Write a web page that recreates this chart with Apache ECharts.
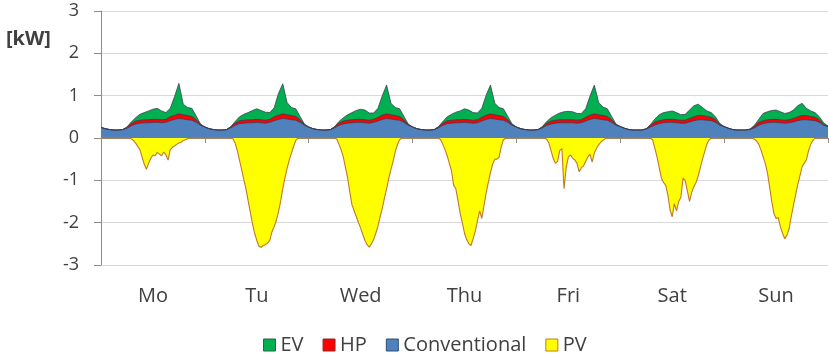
<!DOCTYPE html>
<html>
<head>
<meta charset="utf-8">
<script src="https://cdn.jsdelivr.net/npm/echarts@6/dist/echarts.min.js"></script>
<style>
  html, body { margin: 0; padding: 0; background: #ffffff; }
  #chart { width: 829px; height: 357px; }
</style>
</head>
<body>
<div id="chart"></div>
<script>
// Weekly household power profile [kW]
const days = ['Mo', 'Tu', 'Wed', 'Thu', 'Fri', 'Sat', 'Sun'];
const yTicks = [-3, -2, -1, 0, 1, 2, 3];

// Hourly load components (24 values per day, plus the closing value at hour 168)
const conventional = [
  /* Mo  */ 0.25,0.22,0.20,0.19,0.19,0.20,0.23,0.29,0.33,0.35,0.36,0.36,0.37,0.37,0.36,0.37,0.41,0.44,0.46,0.45,0.43,0.42,0.37,0.30,
  /* Tu  */ 0.26,0.22,0.20,0.19,0.19,0.20,0.24,0.30,0.34,0.35,0.36,0.36,0.37,0.36,0.35,0.37,0.41,0.44,0.46,0.45,0.43,0.42,0.37,0.30,
  /* Wed */ 0.26,0.22,0.20,0.19,0.19,0.20,0.24,0.30,0.33,0.35,0.36,0.37,0.37,0.36,0.35,0.37,0.40,0.44,0.46,0.45,0.43,0.42,0.37,0.30,
  /* Thu */ 0.26,0.22,0.20,0.19,0.19,0.20,0.24,0.30,0.34,0.35,0.36,0.36,0.37,0.36,0.35,0.36,0.40,0.44,0.46,0.45,0.43,0.42,0.37,0.30,
  /* Fri */ 0.26,0.22,0.20,0.19,0.19,0.20,0.24,0.30,0.33,0.35,0.36,0.36,0.36,0.36,0.35,0.36,0.40,0.44,0.46,0.45,0.43,0.42,0.37,0.30,
  /* Sat */ 0.27,0.23,0.20,0.19,0.19,0.19,0.21,0.26,0.31,0.34,0.36,0.37,0.37,0.36,0.35,0.35,0.38,0.41,0.43,0.43,0.42,0.41,0.37,0.30,
  /* Sun */ 0.27,0.23,0.20,0.19,0.19,0.19,0.20,0.24,0.30,0.34,0.36,0.37,0.37,0.36,0.35,0.36,0.38,0.41,0.43,0.43,0.42,0.41,0.37,0.30,
  0.27
];
const heatPump = [
  /* Mo  */ 0,0,0,0,0,0,0.02,0.05,0.07,0.07,0.07,0.07,0.07,0.07,0.07,0.07,0.09,0.10,0.11,0.10,0.10,0.09,0.06,0.02,
  /* Tu  */ 0,0,0,0,0,0,0.02,0.05,0.07,0.07,0.07,0.07,0.07,0.07,0.07,0.07,0.09,0.10,0.11,0.10,0.10,0.09,0.06,0.02,
  /* Wed */ 0,0,0,0,0,0,0.02,0.05,0.07,0.07,0.07,0.07,0.07,0.07,0.07,0.07,0.09,0.10,0.11,0.10,0.10,0.09,0.06,0.02,
  /* Thu */ 0,0,0,0,0,0,0.02,0.05,0.07,0.07,0.07,0.07,0.07,0.07,0.07,0.07,0.09,0.10,0.11,0.10,0.10,0.09,0.06,0.02,
  /* Fri */ 0,0,0,0,0,0,0.02,0.05,0.07,0.07,0.07,0.07,0.07,0.07,0.07,0.07,0.09,0.10,0.11,0.10,0.10,0.09,0.06,0.02,
  /* Sat */ 0,0,0,0,0,0,0.01,0.04,0.07,0.07,0.07,0.07,0.07,0.07,0.07,0.07,0.08,0.09,0.10,0.10,0.09,0.08,0.06,0.02,
  /* Sun */ 0,0,0,0,0,0,0.01,0.04,0.07,0.07,0.07,0.07,0.07,0.07,0.07,0.07,0.08,0.09,0.10,0.10,0.09,0.08,0.06,0.02,
  0.01
];
const electricVehicle = [
  /* Mo  */ 0,0,0,0,0,0,0.01,0.04,0.08,0.14,0.17,0.21,0.24,0.26,0.21,0.16,0.20,0.44,0.72,0.25,0.19,0.19,0.09,0.01,
  /* Tu  */ 0,0,0,0,0,0,0.01,0.04,0.09,0.14,0.17,0.22,0.25,0.22,0.19,0.16,0.21,0.51,0.71,0.29,0.19,0.18,0.08,0.01,
  /* Wed */ 0,0,0,0,0,0,0.01,0.04,0.08,0.13,0.17,0.21,0.24,0.23,0.17,0.15,0.21,0.46,0.68,0.27,0.19,0.18,0.08,0.01,
  /* Thu */ 0,0,0,0,0,0,0.01,0.04,0.09,0.14,0.18,0.21,0.25,0.23,0.18,0.16,0.21,0.47,0.68,0.27,0.19,0.18,0.08,0.01,
  /* Fri */ 0,0,0,0,0,0,0.01,0.04,0.08,0.12,0.16,0.19,0.20,0.19,0.16,0.15,0.20,0.45,0.68,0.29,0.20,0.18,0.08,0.01,
  /* Sat */ 0,0,0,0,0,0,0,0.02,0.07,0.14,0.17,0.18,0.20,0.17,0.13,0.14,0.20,0.26,0.27,0.19,0.13,0.11,0.07,0.02,
  /* Sun */ 0,0,0,0,0,0,0,0.02,0.07,0.17,0.19,0.21,0.22,0.19,0.16,0.17,0.20,0.26,0.29,0.17,0.13,0.11,0.07,0.04,
  0
];

// Half-hourly PV feed-in (48 values per day, plus the closing value), negative = generation
const photovoltaic = [
  /* Mo  */ 0,0,0,0,0,0,0,0,0,0,0,0,0,0,
            -0.02,-0.06,-0.12,-0.20,-0.28,-0.45,-0.62,-0.74,-0.60,-0.48,-0.40,-0.42,-0.34,-0.38,
            -0.42,-0.33,-0.40,-0.52,-0.28,-0.22,-0.19,-0.15,-0.12,-0.10,-0.06,-0.04,-0.02,
            0,0,0,0,0,0,0,
  /* Tu  */ 0,0,0,0,0,0,0,0,0,0,0,0,0,
            -0.02,-0.12,-0.30,-0.52,-0.75,-0.98,-1.20,-1.48,-1.75,-2.02,-2.25,-2.42,-2.56,-2.58,
            -2.54,-2.52,-2.48,-2.42,-2.22,-2.10,-1.95,-1.75,-1.50,-1.20,-0.95,-0.72,-0.52,-0.36,
            -0.20,-0.06,
            0,0,0,0,0,
  /* Wed */ 0,0,0,0,0,0,0,0,0,0,0,0,0,
            -0.03,-0.15,-0.28,-0.45,-0.70,-0.95,-1.28,-1.58,-1.72,-1.86,-2.00,-2.13,-2.28,-2.42,
            -2.52,-2.58,-2.50,-2.40,-2.25,-2.08,-1.86,-1.66,-1.42,-1.20,-0.95,-0.74,-0.55,-0.32,
            -0.16,-0.04,
            0,0,0,0,0,
  /* Thu */ 0,0,0,0,0,0,0,0,0,0,0,0,0,
            -0.04,-0.15,-0.28,-0.42,-0.60,-0.78,-1.12,-1.20,-1.48,-1.78,-2.00,-2.25,-2.40,-2.50,
            -2.54,-2.38,-2.20,-1.95,-1.72,-1.90,-1.60,-1.30,-1.05,-0.82,-0.62,-0.50,-0.50,-0.45,
            -0.20,-0.04,
            0,0,0,0,0,
  /* Fri */ 0,0,0,0,0,0,0,0,0,0,0,0,0,0,
            -0.03,-0.12,-0.30,-0.48,-0.60,-0.55,-0.30,-0.25,-1.20,-0.70,-0.45,-0.40,-0.48,-0.52,
            -0.60,-0.80,-0.70,-0.66,-0.55,-0.45,-0.38,-0.57,-0.35,-0.25,-0.16,-0.10,-0.05,-0.02,
            0,0,0,0,0,0,
  /* Sat */ 0,0,0,0,0,0,0,0,0,0,0,0,0,0,0,
            -0.05,-0.25,-0.45,-0.70,-0.95,-1.05,-1.12,-1.35,-1.70,-1.86,-1.55,-1.72,-1.50,-1.40,
            -0.95,-1.00,-1.25,-1.50,-1.28,-1.15,-1.05,-0.90,-0.70,-0.50,-0.32,-0.15,-0.05,
            0,0,0,0,0,0,
  /* Sun */ 0,0,0,0,0,0,0,0,0,0,0,0,0,0,
            -0.03,-0.07,-0.15,-0.28,-0.44,-0.60,-0.82,-1.15,-1.50,-1.78,-1.90,-1.88,-2.10,-2.25,
            -2.38,-2.30,-2.15,-1.86,-1.60,-1.35,-1.10,-0.90,-0.68,-0.60,-0.52,-0.30,-0.15,-0.06,
            0,0,0,0,0,0,
  0
];

// Sampling steps in hours
const LOAD_STEP = 1;
const PV_STEP = 0.5;

// [hour, value] pairs for the hidden time axis
function withTime(values, step) {
  return values.map((v, i) => [i * step, v]);
}
// running totals of the load layers (conventional at the bottom, then HP, then EV)
function layerTop(layers) {
  return layers[0].map((_, i) => layers.reduce((s, arr) => s + arr[i], 0));
}

const convTop = layerTop([conventional]);
const hpTop = layerTop([conventional, heatPump]);
const evTop = layerTop([conventional, heatPump, electricVehicle]);

const TEXT = '#404040';
const AXIS = '#8C8C8C';
const FONT = 'Open Sans';

const chart = echarts.init(document.getElementById('chart'), null, { renderer: 'canvas' });

const loadLine = { width: 0.9, color: '#3A3A50', opacity: 0.85 };

function areaSeries(name, values, step, fill, line) {
  return {
    name: name,
    type: 'line',
    xAxisIndex: 2,
    symbol: 'none',
    data: withTime(values, step),
    itemStyle: { color: fill },
    lineStyle: line,
    areaStyle: { color: fill, opacity: 1, origin: 0 }
  };
}

chart.setOption({
  animation: false,
  textStyle: { fontFamily: FONT },
  title: {
    text: '[kW]',
    left: 6,
    top: 29,
    padding: [0, 0, 0, 0],
    textStyle: { fontFamily: FONT, fontSize: 20, fontWeight: 'bold', color: TEXT }
  },
  legend: {
    left: 263,
    top: 335,
    padding: 0,
    icon: 'rect',
    itemWidth: 12,
    itemHeight: 12,
    itemGap: 19,
    textStyle: { fontFamily: FONT, fontSize: 20, color: TEXT },
    data: [
      { name: 'EV', itemStyle: { color: '#00B050', borderColor: '#2D5F4A', borderWidth: 1 } },
      { name: 'HP', itemStyle: { color: '#FF0000', borderColor: '#8B2A2A', borderWidth: 1 } },
      { name: 'Conventional', itemStyle: { color: '#4F81BD', borderColor: '#2F4F7A', borderWidth: 1 } },
      { name: 'PV', itemStyle: { color: '#FFFF00', borderColor: '#C07828', borderWidth: 1 } }
    ]
  },
  grid: { left: 101, right: 1, top: 11, bottom: 92 },
  xAxis: [
    {
      // day labels along the bottom edge
      type: 'category',
      data: days,
      position: 'bottom',
      axisLine: { show: false, onZero: false },
      axisTick: { show: false },
      axisLabel: { fontFamily: FONT, fontSize: 20, color: TEXT, margin: 21 },
      splitLine: { show: false }
    },
    {
      // zero line with day separators
      type: 'category',
      data: days,
      position: 'bottom',
      axisLine: { show: true, onZero: true, lineStyle: { color: AXIS, width: 1 } },
      axisTick: { show: true, length: 5, lineStyle: { color: AXIS } },
      axisLabel: { show: false },
      splitLine: { show: false }
    },
    {
      // time axis in hours for the series
      type: 'value',
      min: 0,
      max: 168,
      show: false
    }
  ],
  yAxis: {
    type: 'value',
    min: yTicks[0],
    max: yTicks[yTicks.length - 1],
    interval: 1,
    axisLine: { show: true, onZero: false, lineStyle: { color: AXIS } },
    axisTick: { show: true, length: 7, lineStyle: { color: AXIS } },
    splitLine: { show: true, lineStyle: { color: '#D9D9D9', width: 1 } },
    axisLabel: { fontFamily: FONT, fontSize: 18, color: TEXT, margin: 22 }
  },
  series: [
    areaSeries('EV', evTop, LOAD_STEP, '#00B050', loadLine),
    areaSeries('HP', hpTop, LOAD_STEP, '#FF0000', loadLine),
    areaSeries('Conventional', convTop, LOAD_STEP, '#4F81BD', loadLine),
    areaSeries('PV', photovoltaic, PV_STEP, '#FFFF00', { color: '#C07828', width: 1.1 })
  ]
});
</script>
</body>
</html>
